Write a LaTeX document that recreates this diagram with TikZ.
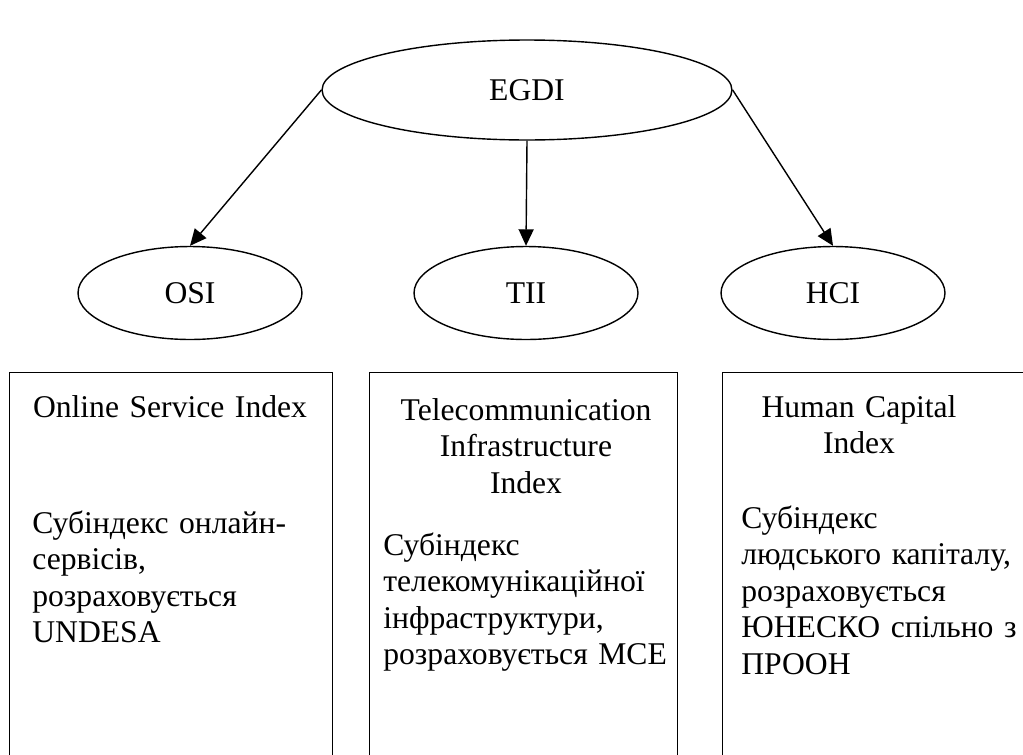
\documentclass[tikz,border=0pt]{standalone}
\usepackage{fontspec}
\setmainfont{Liberation Serif}
\usetikzlibrary{positioning, arrows.meta, shapes.geometric}

\begin{document}
\begin{tikzpicture}[
        x=0.02cm, y=-0.02cm,
        font=\fontsize{18pt}{20.8pt}\selectfont,
        idx/.style={draw, ellipse, line width=0.8pt, minimum width=#1, minimum height=1.86cm, inner sep=0pt},
        idx/.default=4.48cm,
        panel/.style={draw, line width=0.8pt, minimum width=#1, minimum height=9cm, anchor=north west},
        conn/.style={-{Triangle[length=3.3mm, width=3mm]}, line width=0.8pt},
        title/.style={anchor=base, text width=6cm, align=center, inner sep=0pt},
        body/.style={anchor=base west, text width=6cm, align=left, inner sep=0pt},
    ]
    \useasboundingbox (0,0) rectangle (1023,754);
    \clip (0,0) rectangle (1023,754);

    % Top index and sub-indices
    \node[idx=8.2cm, minimum height=2cm] (egdi) at (527,90) {EGDI};
    \node[idx] (osi) at (190,293) {OSI};
    \node[idx] (tii) at (526,293) {TII};
    \node[idx] (hci) at (833,293) {HCI};

    % Connections
    \draw[conn] (egdi.west) -- (osi.north);
    \draw[conn] (egdi.south) -- (tii.north);
    \draw[conn] (egdi.east) -- (hci.north);

    % Description panels
    \node[panel=6.46cm] (osibox) at (9,372) {};
    \node[panel=6.16cm] (tiibox) at (369,372) {};
    \node[panel=7cm] (hcibox) at (722,372) {};

    % Panel texts
    \node[title] (osititle) at (170,417) {Online Service Index};
    \node[body] (ositext) at (32,533) {Субіндекс онлайн-\\сервісів,\\розраховується\\UNDESA};

    \node[title] (tiititle) at (526,420) {Telecommunication\\Infrastructure\\Index};
    \node[body] (tiitext) at (383,555) {Субіндекс\\телекомунікаційної\\інфраструктури,\\розраховується МСЕ};

    \node[title] (hcititle) at (859,417) {Human Capital\\Index};
    \node[body] (hcitext) at (741,528) {Субіндекс\\людського капіталу,\\розраховується\\ЮНЕСКО спільно з\\ПРООН};
    \end{tikzpicture}
\end{document}
